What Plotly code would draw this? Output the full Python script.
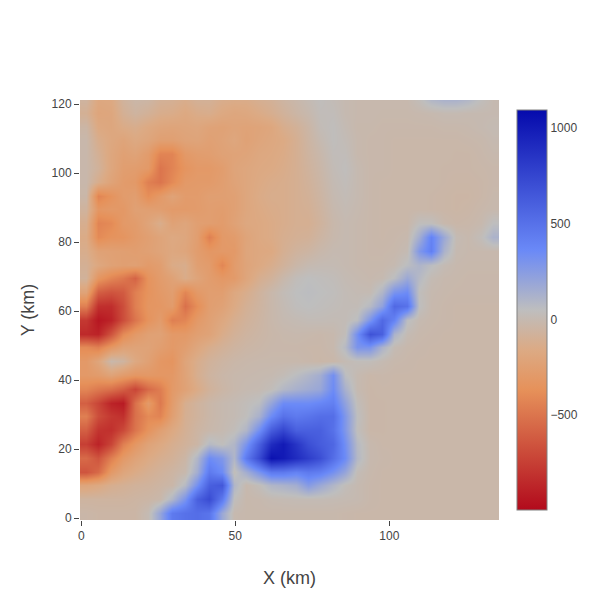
import plotly.graph_objects as go

x_km = [1.6, 5.6, 9.6, 13.6, 17.6, 21.6, 25.6, 29.6, 33.6, 37.6, 41.6, 45.6, 49.6, 53.6, 57.6, 61.6, 65.6,
        69.6, 73.6, 77.6, 81.6, 85.6, 89.6, 93.6, 97.6, 101.6, 105.6, 109.6, 113.6, 117.6, 121.6, 125.6, 129.6, 133.6]
y_km = [1.5, 5.5, 9.5, 13.5, 17.5, 21.5, 25.5, 29.5, 33.5, 37.5, 41.5, 45.5, 49.5, 53.5, 57.5, 61.5,
        65.5, 69.5, 73.5, 77.5, 81.5, 85.5, 89.5, 93.5, 97.5, 101.5, 105.5, 109.5, 113.5, 117.5, 121.5]

# rows listed from the bottom of the map (y = 1.5 km) to the top
z_rows = [
 [-30,-40,-40,-40,-40,10,200,450,500,520,480,180,-5,-15,-15,-15,-15,-15,-15,-15,-15,-20,-25,-25,-25,-25,-25,-25,-25,-25,-25,-25,-25,-25],
 [-60,-60,-60,-60,-50,-40,-20,100,300,600,720,450,40,-15,-10,5,10,15,15,15,10,5,0,-20,-25,-25,-25,-25,-25,-25,-25,-25,-25,-25],
 [-200,-170,-120,-100,-80,-70,-50,-30,80,320,600,650,100,-10,30,100,120,150,260,180,100,30,0,-20,-25,-25,-25,-25,-25,-25,-25,-25,-25,-25],
 [-650,-550,-300,-200,-150,-110,-80,-50,-10,150,450,350,30,150,300,450,450,400,450,420,320,200,20,-15,-25,-25,-25,-25,-25,-25,-25,-25,-25,-25],
 [-550,-650,-450,-300,-220,-160,-120,-90,-40,100,350,280,100,450,720,1050,1000,900,800,700,520,350,90,-10,-20,-25,-25,-25,-25,-25,-25,-25,-25,-25],
 [-750,-880,-720,-450,-320,-220,-170,-120,-80,-40,80,40,100,300,600,900,1000,850,700,620,560,330,80,-10,-25,-25,-25,-25,-25,-25,-25,-25,-25,-25],
 [-600,-800,-820,-700,-500,-350,-250,-170,-100,-50,-20,0,30,100,330,620,750,600,600,600,500,280,40,-30,-30,-25,-25,-25,-25,-25,-25,-25,-25,-25],
 [-450,-680,-780,-820,-520,-400,-430,-250,-110,-70,-30,-5,10,40,130,350,500,450,480,520,520,280,50,-30,-30,-25,-25,-25,-25,-25,-25,-25,-25,-25],
 [-600,-720,-880,-920,-520,-290,-480,-280,-120,-70,-30,-5,10,30,60,200,350,350,350,380,420,220,30,-30,-30,-25,-25,-25,-25,-25,-25,-25,-25,-25],
 [-420,-480,-520,-600,-720,-550,-460,-300,-230,-150,-80,-40,-15,0,5,30,90,130,160,190,350,130,0,-30,-25,-25,-25,-25,-25,-25,-25,-25,-25,-25],
 [-300,-280,-220,-280,-320,-310,-320,-310,-220,-120,-60,-30,-15,-10,-5,0,20,60,100,150,330,60,0,-25,-20,-25,-25,-25,-25,-25,-25,-25,-25,-25],
 [-300,-200,-20,-60,-170,-240,-320,-340,-210,-130,-80,-50,-30,-20,-15,-15,-15,-15,-20,-30,-25,10,30,30,5,-15,-20,-25,-25,-25,-25,-25,-25,-25],
 [-400,-450,-320,-230,-220,-220,-260,-300,-260,-190,-130,-90,-60,-40,-30,-20,-20,-20,-25,-25,-10,80,300,300,120,10,-15,-20,-25,-25,-25,-25,-25,-25],
 [-850,-880,-650,-400,-300,-240,-230,-300,-300,-250,-220,-140,-90,-60,-40,-25,-15,-10,-15,-20,-10,30,330,680,600,120,10,-15,-20,-25,-25,-25,-25,-25],
 [-780,-940,-880,-680,-500,-350,-280,-450,-420,-300,-240,-180,-120,-80,-50,-20,0,10,20,20,15,20,60,300,550,400,60,0,-15,-20,-25,-25,-25,-25],
 [-450,-820,-830,-680,-450,-330,-320,-280,-520,-380,-260,-230,-160,-100,-60,-20,10,40,50,40,30,20,20,80,220,550,500,50,-10,-20,-25,-25,-25,-25],
 [-220,-600,-650,-620,-450,-350,-300,-260,-420,-300,-260,-260,-180,-130,-70,-20,20,50,60,50,40,20,10,10,100,300,350,40,-5,-15,-20,-20,-20,-20],
 [-80,-330,-420,-480,-580,-350,-280,-230,-140,-210,-270,-310,-290,-200,-120,-80,-20,30,50,40,30,10,0,-10,0,60,180,80,10,-10,-15,-20,-20,-20],
 [-100,-180,-230,-250,-240,-290,-260,-150,-130,-250,-280,-420,-280,-210,-170,-130,-80,-30,0,10,10,0,-10,-15,-15,0,60,110,60,10,-10,-15,-15,-15],
 [-130,-230,-240,-250,-260,-240,-210,-180,-200,-270,-320,-300,-300,-200,-180,-170,-110,-70,-50,-20,0,0,-10,-20,-20,-15,10,280,420,120,0,-10,-10,-10],
 [-150,-400,-350,-340,-290,-250,-210,-170,-190,-260,-450,-300,-280,-210,-170,-150,-120,-100,-90,-50,-15,0,-10,-20,-25,-20,-10,150,400,180,10,-10,30,120],
 [-120,-430,-400,-300,-280,-210,-130,-230,-200,-250,-260,-280,-230,-180,-170,-150,-130,-110,-110,-70,-20,0,-10,-20,-25,-25,-25,40,40,-15,-30,-25,-10,50],
 [-70,-320,-300,-310,-240,-250,-260,-290,-290,-280,-260,-270,-240,-190,-160,-140,-130,-110,-100,-60,-10,10,-5,-20,-25,-25,-25,-25,-30,-35,-40,-35,-20,-10],
 [-30,-430,-350,-280,-260,-380,-300,-220,-280,-280,-250,-250,-240,-190,-150,-130,-130,-110,-90,-50,0,20,0,-20,-25,-25,-25,-25,-30,-35,-40,-40,-30,-15],
 [-20,-130,-220,-280,-300,-450,-500,-400,-300,-290,-290,-260,-220,-190,-160,-140,-130,-110,-80,-40,10,30,0,-20,-25,-25,-25,-25,-25,-30,-35,-35,-30,-20],
 [-20,-80,-190,-260,-270,-300,-500,-430,-340,-300,-300,-270,-210,-190,-170,-160,-140,-110,-70,-30,20,40,0,-20,-20,-25,-25,-25,-25,-30,-30,-30,-25,-20],
 [-20,-100,-190,-240,-220,-280,-430,-430,-300,-270,-260,-230,-220,-210,-180,-170,-150,-110,-60,-20,30,30,-10,-20,-20,-25,-25,-25,-25,-25,-30,-30,-20,-10],
 [-20,-130,-180,-210,-170,-200,-250,-250,-220,-210,-240,-220,-190,-230,-200,-180,-160,-110,-50,0,40,20,-10,-20,-20,-25,-25,-25,-25,-25,-25,-20,-15,0],
 [-40,-170,-190,-150,-130,-170,-200,-210,-200,-190,-220,-230,-210,-220,-210,-190,-130,-90,-40,20,40,10,-15,-15,-20,-20,-20,-20,-20,-15,-15,-10,0,10],
 [-100,-200,-190,-100,-60,-90,-130,-140,-170,-140,-130,-170,-190,-180,-150,-120,-80,-40,-10,30,30,0,-10,-10,-15,-15,-15,-10,-5,5,5,0,0,0],
 [-60,-180,-170,-70,-30,-40,-90,-100,-130,-90,-90,-130,-140,-140,-110,-90,-50,-20,10,40,20,0,-10,-10,-10,-10,-10,30,100,130,130,100,40,0],
]

color_stops = [
    [0.0, "rgb(178,10,28)"], [0.3, "rgb(230,145,90)"], [0.4, "rgb(220,170,132)"],
    [0.5, "rgb(190,190,190)"], [0.65, "rgb(106,137,247)"], [1.0, "rgb(5,10,172)"],
]

FONT = "Liberation Sans, Arial, sans-serif"

fig = go.Figure(go.Heatmap(
    x=x_km, y=y_km, z=z_rows,
    colorscale=color_stops, zmin=-995, zmax=1094, zsmooth="best",
    colorbar=dict(outlinecolor="#808080", tickfont=dict(size=12, color="#444", family=FONT), ticks=""),
))
axis = dict(showgrid=False, zeroline=False, showline=False, ticks="outside", ticklen=5,
            tickcolor="#444", tickfont=dict(size=12, color="#444", family=FONT))
fig.update_layout(
    template="none", width=592, height=592,
    paper_bgcolor="white", plot_bgcolor="white",
    margin=dict(l=72, r=101, t=92, b=80),
    font=dict(family=FONT, color="#444"),
    xaxis=dict(title=dict(text="X (km)", font=dict(size=18, color="#444", family=FONT)),
               range=[-0.4, 135.6], tickvals=[0, 50, 100], ticktext=["0", "50", "100"], **axis),
    yaxis=dict(title=dict(text="Y (km)", font=dict(size=18, color="#444", family=FONT)),
               range=[-0.5, 121.2], tickvals=[0, 20, 40, 60, 80, 100, 120], **axis),
)
fig.write_html("out.html")
